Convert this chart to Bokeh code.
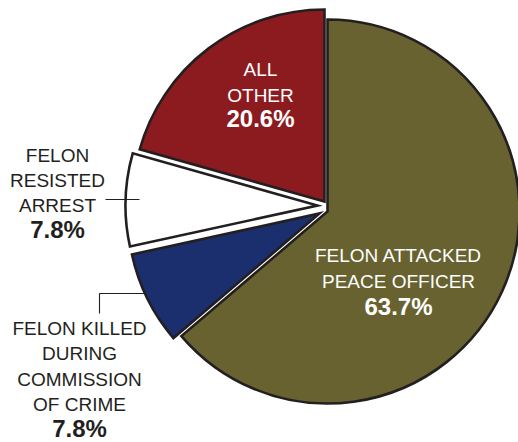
import math
from bokeh.plotting import figure
from bokeh.models import Range1d
from bokeh.core.properties import value
from bokeh.embed import file_html
from bokeh.resources import INLINE

# ---- data ----
categories = ["FELON ATTACKED PEACE OFFICER", "FELON KILLED DURING COMMISSION OF CRIME",
              "FELON RESISTED ARREST", "ALL OTHER"]
label_lines = [["FELON ATTACKED", "PEACE OFFICER"],
               ["FELON KILLED", "DURING", "COMMISSION", "OF CRIME"],
               ["FELON", "RESISTED", "ARREST"],
               ["ALL", "OTHER"]]
percents = [63.7, 7.8, 7.8, 20.6]

# ---- style ----
W, H = 518, 442
colors = ["#67622f", "#1b2e6e", "#ffffff", "#8c1b1f"]
name_colors = ["white", "#231f20", "#231f20", "white"]
outline = "#231f20"
CENTER = (323, 207)          # pixel position of pie centre
RADIUS = 192
explode = [(4, 4), (-4, 6), (-6, -2), (1, -6)]   # pixel offsets per slice
# label block anchor (centre x, first line y) and line spacing in pixels
label_anchor = [(398, 255), (79, 328), (57, 155), (260, 69)]
line_gap = [26, 25.3, 25, 26]
pct_gap = [25, 24, 24, 23]

def py(y):
    return H - y

p = figure(width=W, height=H, output_backend="svg", toolbar_location=None,
           x_range=Range1d(0, W), y_range=Range1d(0, H),
           min_border=0, outline_line_color=None)
p.axis.visible = False
p.grid.visible = False
p.background_fill_color = "white"
p.border_fill_color = "white"

total = sum(percents)
cum = 0.0
for i, v in enumerate(percents):
    a0 = cum / total * 360.0
    cum += v
    a1 = cum / total * 360.0
    start = math.radians(90 - a1)
    end = math.radians(90 - a0)
    cx = CENTER[0] + explode[i][0]
    cy = CENTER[1] + explode[i][1]
    p.wedge(x=[cx], y=[py(cy)], radius=RADIUS, start_angle=start, end_angle=end,
            fill_color=colors[i], line_color=outline, line_width=2.6, line_join="miter")

# leader lines
p.line(x=[105, 139], y=[py(199), py(199)], line_color=outline, line_width=1.1)
p.line(x=[99, 99, 144], y=[py(313), py(293), py(293)], line_color=outline, line_width=1.1)

for i, lines in enumerate(label_lines):
    ax, ay = label_anchor[i]
    xs, ys = [], []
    for k, t in enumerate(lines):
        xs.append(ax)
        ys.append(py(ay + k * line_gap[i]))
    p.text(x=xs, y=ys, text=lines, text_align="center", text_baseline="middle",
           text_font=value("Liberation Sans"), text_font_size=value("19px"),
           text_color=name_colors[i])
    yl = ay + (len(lines) - 1) * line_gap[i] + pct_gap[i]
    p.text(x=[ax], y=[py(yl)], text=[f"{percents[i]}%"], text_align="center",
           text_baseline="middle", text_font=value("Liberation Sans"),
           text_font_size=value("24px"), text_font_style="bold",
           text_color=name_colors[i])

open("out.html", "w").write(file_html(p, INLINE))
